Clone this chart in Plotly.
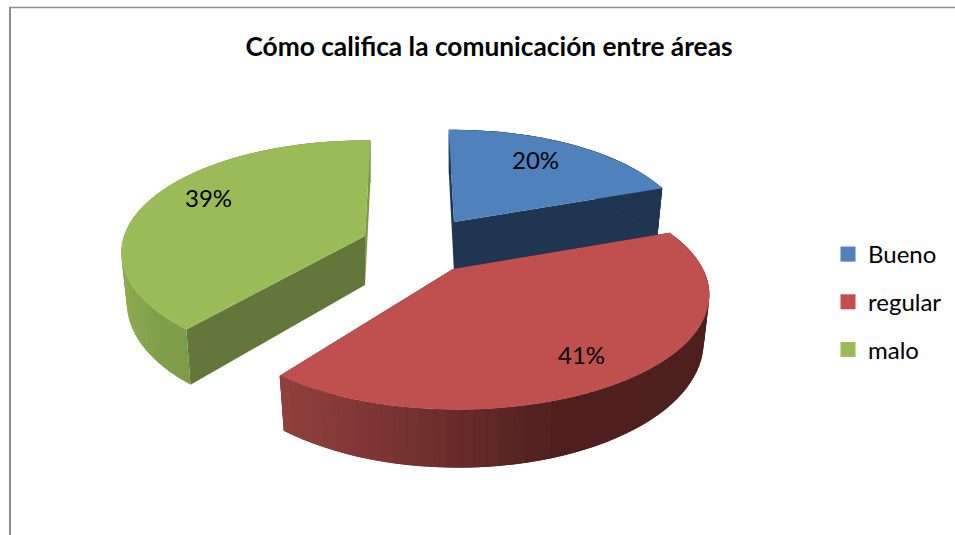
"""Exploded 3D-look pie: comunicacion entre areas."""

import numpy as np
import plotly.graph_objects as go

CATEGORIES = ["Bueno", "regular", "malo"]
PERCENTS = [20, 41, 39]
TITLE = "Cómo califica la comunicación entre áreas"

TOP_COLORS = ["#4F81BD", "#C0504D", "#9BBB59"]
# cut wall at the start and at the end of each wedge
WALL_COLORS = [("#1F3552", "#1F3552"), ("#4D1F1E", "#4D1F1E"), ("#64773A", "#7D9A48")]
# side shading as (pixel x, colour) stops
SIDE_STOPS = [
    [(450, "#1F3552"), (670, "#1F3552")],
    [(285, "#8F3F3C"), (400, "#773331"), (560, "#4E1F1E"), (710, "#4D1F1F")],
    [(121, "#8FAB52"), (150, "#82A04B"), (190, "#7D9A48"), (372, "#7D9A48")],
]

# per wedge view set-up, axes run in page pixels
CENTERS = [(454, 222), (458, 269), (365, 236)]
APEXES = [(454, 222), (453, 269), (365, 236)]
RADII_X = [232, 245, 241]
RADII_Y = [106, 109, 110]
ROTATIONS = [-1.5, -3.0, 1.5]
PERSPECTIVES = [0.15, 0.225, 0.15]
DEPTHS = [50, 45, 49]
LABEL_XY = [(535, 159), (581, 354), (208, 197)]

BOTTOM_SCALE = 0.977


def project(theta_deg, i, bottom=False):
    """Clockwise-from-north angle to page pixels on the top or bottom rim."""
    theta = np.radians(theta_deg)
    u, v = np.sin(theta), np.cos(theta)
    w = 1 + PERSPECTIVES[i] * v
    x, y = RADII_X[i] * u / w, -RADII_Y[i] * v / w
    cx, cy = CENTERS[i]
    if bottom:
        return cx + x * BOTTOM_SCALE, cy + y + DEPTHS[i] / w
    return cx + x, cy + y


def side_color(stops, x):
    xs = [s[0] for s in stops]
    rgb = [[int(s[1][i:i + 2], 16) for i in (1, 3, 5)] for s in stops]
    c = [np.interp(x, xs, [p[k] for p in rgb]) for k in range(3)]
    return "rgb({:.0f},{:.0f},{:.0f})".format(*c)


def add_poly(fig, xs, ys, color):
    fig.add_trace(
        go.Scatter(
            x=list(xs) + [xs[0]],
            y=list(ys) + [ys[0]],
            mode="lines",
            fill="toself",
            fillcolor=color,
            line=dict(width=0),
            hoverinfo="skip",
            showlegend=False,
        )
    )


def add_wedge(fig, i, start, end):
    apex = APEXES[i]
    angles = np.linspace(start + ROTATIONS[i], end + ROTATIONS[i], 61)
    top = [project(a, i) for a in angles]
    low = [project(a, i, bottom=True) for a in angles]
    apex_low = (apex[0], apex[1] + DEPTHS[i])

    # cut walls first, then the outer rim strips, top face last
    for (t, b), color in zip(((top[0], low[0]), (top[-1], low[-1])), WALL_COLORS[i]):
        add_poly(fig, [t[0], b[0], apex_low[0], apex[0]], [t[1], b[1], apex_low[1], apex[1]], color)
    # each strip overlaps the next one so no seams show
    for k in range(len(angles) - 1):
        n = min(k + 2, len(angles) - 1)
        add_poly(
            fig,
            [top[k][0], top[n][0], low[n][0], low[k][0]],
            [top[k][1], top[n][1], low[n][1], low[k][1]],
            side_color(SIDE_STOPS[i], (top[k][0] + top[k + 1][0]) / 2),
        )
    add_poly(fig, [apex[0]] + [p[0] for p in top], [apex[1]] + [p[1] for p in top], TOP_COLORS[i])


fig = go.Figure()

edges = np.concatenate([[0], np.cumsum(PERCENTS)]) * 3.6
# red sits in front of the blue wedge, so it goes after it
for i in (0, 2, 1):
    add_wedge(fig, i, edges[i], edges[i + 1])

for name, color in zip(CATEGORIES, TOP_COLORS):
    fig.add_trace(
        go.Scatter(
            x=[None],
            y=[None],
            mode="markers",
            name=name,
            legendgroup=name,
            marker=dict(symbol="square", size=15, color=color),
        )
    )

for pct, (lx, ly) in zip(PERCENTS, LABEL_XY):
    fig.add_annotation(
        x=lx, y=ly, text=f"{pct}%", showarrow=False,
        font=dict(family="Lato", size=24, color="#000000"),
    )

fig.update_layout(
    width=955,
    height=535,
    margin=dict(l=0, r=0, t=0, b=0),
    paper_bgcolor="white",
    plot_bgcolor="white",
    xaxis=dict(range=[0, 955], visible=False),
    yaxis=dict(range=[535, 0], visible=False),
    title=dict(
        text=f"<b>{TITLE}</b>",
        x=489 / 955,
        xanchor="center",
        y=1 - 47 / 535,
        yanchor="middle",
        font=dict(family="Lato", size=26.3, color="#000000"),
    ),
    legend=dict(
        x=828 / 955,
        y=1 - 232 / 535,
        xanchor="left",
        yanchor="top",
        traceorder="grouped",
        tracegroupgap=13.5,
        font=dict(family="Lato", size=24, color="#000000"),
        bgcolor="rgba(0,0,0,0)",
    ),
    shapes=[
        dict(type="line", x0=10, x1=10, y0=7, y1=535, line=dict(color="#8C8C8C", width=2)),
        dict(type="line", x0=9, x1=955, y0=7.5, y1=7.5, line=dict(color="#8C8C8C", width=1.5)),
    ],
)

fig.write_html(
    "out.html",
    config=dict(displayModeBar=False),
    post_script="document.body.style.margin='0';",
)
